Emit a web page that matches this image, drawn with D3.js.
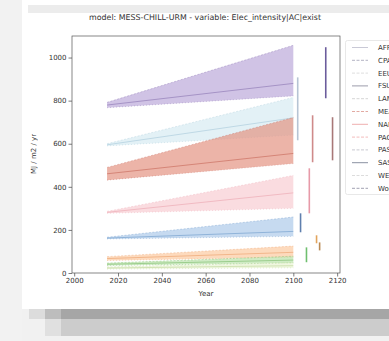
<!DOCTYPE html>
<html>
<head>
<meta charset="utf-8">
<script src="https://cdn.jsdelivr.net/npm/d3@7"></script>
<style>
  body { margin: 0; background: #fff; }
  svg { display: block; font-family: "DejaVu Sans", sans-serif; }
</style>
</head>
<body>
<svg width="389" height="341"></svg>
<script>
// regions in the legend
var regions = ["AFR", "CPA", "EEU", "FSU", "LAM", "MEA", "NAM", "PAO", "PAS", "SAS", "WEU", "World"];
var legendColors = ["#c9c9d6", "#b3b3c3", "#dedede", "#9c9cab", "#d6d6d6", "#e2aaa2",
                    "#efb0b0", "#f3bcbc", "#c9c9d1", "#8a92a2", "#dcdcdc", "#a2a2b2"];

// scenario ranges, 2015 -> 2100
var bandYears = [2015, 2100];
var bandLo2015 = [767, 590, 431, 277, 158, 58, 35, 18];
var bandHi2015 = [792, 600, 490, 286, 166, 76, 46, 28];
var bandLo2100 = [822, 640, 508, 300, 170, 73, 46, 24];
var bandHi2100 = [1057, 815, 722, 453, 260, 125, 78, 48];
var bandMid2100 = [880, 720, 555, 372, 193, 96, 60, 34];
var bandFill = ["#b9a6d8", "#d6eaf2", "#e3907f", "#f7ccd2", "#abc9e9", "#fcc99e", "#b8e2a8", "#e8f3d2"];
var bandLine = ["#7d66a8", "#9cc2d4", "#c0584a", "#e89aa6", "#5d8fc4", "#e8955a", "#6cb25a", "#b6cf8c"];

// ranges drawn after 2100
var rangeYears = [2102, 2103.3, 2106, 2107.3, 2108.8, 2110.6, 2112, 2114.8, 2117.9];
var rangeLo = [616, 189, 50, 277, 514, 138, 105, 811, 523];
var rangeHi = [908, 277, 119, 486, 732, 175, 142, 1048, 723];
var rangeColor = ["#b6c4d4", "#5f7fae", "#6fbf6f", "#e79aa8", "#cf8a8a", "#e2a45c", "#b98a54", "#6b5c9c", "#a87878"];

var xTicks = [2000, 2020, 2040, 2060, 2080, 2100, 2120];
var yTicks = [0, 200, 400, 600, 800, 1000];

var svg = d3.select("svg");

// surrounding page chrome of the screenshot
svg.append("rect").attr("x", 0).attr("y", 0).attr("width", 22).attr("height", 341).attr("fill", "#f2f2f2");
svg.append("rect").attr("x", 28).attr("y", 5).attr("width", 361).attr("height", 8).attr("fill", "#ececec");
svg.append("rect").attr("x", 22).attr("y", 309).attr("width", 367).attr("height", 32).attr("fill", "#f1f1f1");
svg.append("rect").attr("x", 29).attr("y", 309).attr("width", 16).attr("height", 10).attr("fill", "#dcdcdc");
svg.append("rect").attr("x", 45).attr("y", 309).attr("width", 16).attr("height", 10).attr("fill", "#bdbdbd");
svg.append("rect").attr("x", 61).attr("y", 309).attr("width", 328).attr("height", 10).attr("fill", "#a6a6a6");
svg.append("rect").attr("x", 45).attr("y", 319).attr("width", 16).attr("height", 17).attr("fill", "#e0e0e0");
svg.append("rect").attr("x", 61).attr("y", 319).attr("width", 328).attr("height", 17).attr("fill", "#cccccc");

var x = d3.scaleLinear().domain([1999, 2121.3]).range([72, 340]),
    y = d3.scaleLinear().domain([0, 1100]).range([273, 36]);

var g = svg.append("g");

// bands
bandFill.forEach(function(c, i) {
  var pts = [
    {year: bandYears[0], lo: bandLo2015[i], hi: bandHi2015[i]},
    {year: bandYears[1], lo: bandLo2100[i], hi: bandHi2100[i]}
  ];
  var area = d3.area()
    .x(function(d) { return x(d.year); })
    .y0(function(d) { return y(d.lo); })
    .y1(function(d) { return y(d.hi); });
  g.append("path").datum(pts)
    .attr("fill", c).attr("fill-opacity", 0.68)
    .attr("d", area);

  var line = d3.line().x(function(d) { return x(d[0]); }).y(function(d) { return y(d[1]); });
  g.append("path")
    .datum([[bandYears[0], bandHi2015[i]], [bandYears[1], bandHi2100[i]]])
    .attr("fill", "none").attr("stroke", bandLine[i]).attr("stroke-opacity", 0.4)
    .attr("stroke-width", 0.8).attr("stroke-dasharray", "2,1.5").attr("d", line);
  g.append("path")
    .datum([[bandYears[0], bandLo2015[i]], [bandYears[1], bandLo2100[i]]])
    .attr("fill", "none").attr("stroke", bandLine[i]).attr("stroke-opacity", 0.4)
    .attr("stroke-width", 0.8).attr("stroke-dasharray", "1,2").attr("d", line);
  g.append("path")
    .datum([[bandYears[0], (bandLo2015[i] + bandHi2015[i]) / 2], [bandYears[1], bandMid2100[i]]])
    .attr("fill", "none").attr("stroke", bandLine[i]).attr("stroke-opacity", 0.65)
    .attr("stroke-width", 0.8).attr("d", line);
});

// ranges after 2100
g.selectAll(".range")
  .data(rangeYears)
  .enter().append("line")
  .attr("class", "range")
  .attr("x1", function(d) { return x(d); })
  .attr("x2", function(d) { return x(d); })
  .attr("y1", function(d, i) { return y(rangeLo[i]); })
  .attr("y2", function(d, i) { return y(rangeHi[i]); })
  .attr("stroke", function(d, i) { return rangeColor[i]; })
  .attr("stroke-width", 1.6);

// axes
var xAxis = g.append("g")
  .attr("transform", "translate(0,273)")
  .call(d3.axisBottom(x).tickValues(xTicks).tickSize(3.5).tickPadding(2).tickFormat(d3.format("d")));
var yAxis = g.append("g")
  .attr("transform", "translate(72,0)")
  .call(d3.axisLeft(y).tickValues(yTicks).tickSize(3.5).tickPadding(2).tickFormat(d3.format("d")));
[xAxis, yAxis].forEach(function(a) {
  a.select(".domain").remove();
  a.selectAll("line").attr("stroke", "#444").attr("stroke-width", 0.7);
  a.selectAll("text").attr("fill", "#333").style("font-size", "7px").style("font-family", "DejaVu Sans");
});

// frame
g.append("rect").attr("x", 72).attr("y", 36).attr("width", 268).attr("height", 237)
  .attr("fill", "none").attr("stroke", "#555").attr("stroke-width", 0.7);

// title and axis labels
svg.append("text").attr("x", 205).attr("y", 20).attr("text-anchor", "middle")
  .attr("fill", "#333").style("font-size", "7.9px")
  .text("model: MESS-CHILL-URM - variable: Elec_intensity|AC|exist");
svg.append("text").attr("x", 206).attr("y", 296).attr("text-anchor", "middle")
  .attr("fill", "#333").style("font-size", "7px").text("Year");
svg.append("text").attr("transform", "translate(36,154) rotate(-90)").attr("text-anchor", "middle")
  .attr("fill", "#333").style("font-size", "7px").text("MJ / m2 / yr");

// legend (cut at the right edge, as in the screenshot)
var leg = svg.append("g");
leg.append("rect").attr("x", 345.5).attr("y", 40.5).attr("width", 60).attr("height", 154).attr("rx", 2)
  .attr("fill", "#fff").attr("stroke", "#e2e2e2").attr("stroke-width", 0.8);
var item = leg.selectAll(".item")
  .data(regions)
  .enter().append("g")
  .attr("transform", function(d, i) { return "translate(0," + (47.5 + i * 12.8) + ")"; });
item.append("line").attr("x1", 352).attr("x2", 368).attr("y1", 0).attr("y2", 0)
  .attr("stroke", function(d, i) { return legendColors[i]; })
  .attr("stroke-width", 1)
  .attr("stroke-dasharray", function(d, i) { return (i % 3 === 0) ? null : "3,1.5"; });
item.append("text").attr("x", 378).attr("y", 2.5)
  .attr("fill", "#333").style("font-size", "7px").text(function(d) { return d; });
</script>
</body>
</html>
